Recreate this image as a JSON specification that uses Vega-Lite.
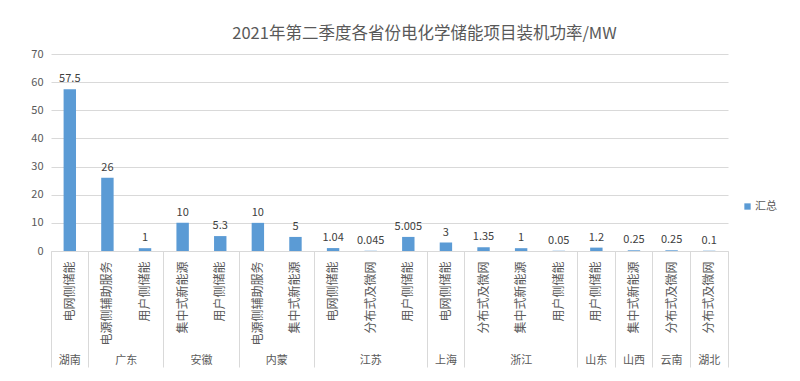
{
  "$schema": "https://vega.github.io/schema/vega-lite/v6.json",
  "width": 677,
  "height": 197,
  "autosize": "none",
  "padding": {"left": 51, "top": 54, "right": 72, "bottom": 130},
  "title": {
    "text": "2021年第二季度各省份电化学储能项目装机功率/MW",
    "fontSize": 16.5,
    "font": "Noto Sans CJK SC",
    "fontWeight": "normal",
    "color": "#595959",
    "anchor": "middle",
    "frame": "group",
    "baseline": "bottom",
    "dx": 35,
    "offset": -10
  },
  "data": {
    "values": [
      {"province": "湖南", "type": "电网侧储能", "key": "湖南|电网侧储能", "value": 57.5},
      {"province": "广东", "type": "电源侧辅助服务", "key": "广东|电源侧辅助服务", "value": 26},
      {"province": "广东", "type": "用户侧储能", "key": "广东|用户侧储能", "value": 1},
      {"province": "安徽", "type": "集中式新能源", "key": "安徽|集中式新能源", "value": 10},
      {"province": "安徽", "type": "用户侧储能", "key": "安徽|用户侧储能", "value": 5.3},
      {"province": "内蒙", "type": "电源侧辅助服务", "key": "内蒙|电源侧辅助服务", "value": 10},
      {"province": "内蒙", "type": "集中式新能源", "key": "内蒙|集中式新能源", "value": 5},
      {"province": "江苏", "type": "电网侧储能", "key": "江苏|电网侧储能", "value": 1.04},
      {"province": "江苏", "type": "分布式及微网", "key": "江苏|分布式及微网", "value": 0.045},
      {"province": "江苏", "type": "用户侧储能", "key": "江苏|用户侧储能", "value": 5.005},
      {"province": "上海", "type": "电网侧储能", "key": "上海|电网侧储能", "value": 3},
      {"province": "浙江", "type": "分布式及微网", "key": "浙江|分布式及微网", "value": 1.35},
      {"province": "浙江", "type": "集中式新能源", "key": "浙江|集中式新能源", "value": 1},
      {"province": "浙江", "type": "用户侧储能", "key": "浙江|用户侧储能", "value": 0.05},
      {"province": "山东", "type": "用户侧储能", "key": "山东|用户侧储能", "value": 1.2},
      {"province": "山西", "type": "集中式新能源", "key": "山西|集中式新能源", "value": 0.25},
      {"province": "云南", "type": "分布式及微网", "key": "云南|分布式及微网", "value": 0.25},
      {"province": "湖北", "type": "分布式及微网", "key": "湖北|分布式及微网", "value": 0.1}
    ]
  },
  "encoding": {
    "y": {
      "field": "value",
      "type": "quantitative",
      "stack": null,
      "scale": {"domain": [0, 70], "nice": false},
      "axis": {
        "values": [0, 10, 20, 30, 40, 50, 60, 70],
        "title": null,
        "grid": true,
        "gridColor": "#d9d9d9",
        "domain": false,
        "ticks": false,
        "labelPadding": 8,
        "labelColor": "#595959",
        "labelFontSize": 11,
        "labelFont": "Noto Sans CJK SC"
      }
    }
  },
  "layer": [
    {
      "mark": {"type": "bar", "width": {"band": 0.33}},
      "encoding": {
        "x": {
          "field": "key",
          "type": "nominal",
          "sort": null,
          "scale": {"type": "band", "paddingInner": 0, "paddingOuter": 0},
          "axis": {
            "orient": "bottom",
            "title": null,
            "labelExpr": "split(datum.value, '|')[1]",
            "labelAngle": -90,
            "labelPadding": 10,
            "ticks": false,
            "domain": true,
            "domainColor": "#d9d9d9",
            "labelColor": "#595959",
            "labelFontSize": 12,
            "labelFont": "Noto Sans CJK SC"
          }
        },
        "color": {
          "datum": "汇总",
          "scale": {"range": ["#5B9BD5"]},
          "legend": {
            "orient": "none",
            "legendX": 691,
            "legendY": 147,
            "title": null,
            "symbolType": "square",
            "symbolSize": 40,
            "labelFontSize": 11,
            "labelColor": "#595959",
            "labelFont": "Noto Sans CJK SC",
            "labelOffset": 2
          }
        }
      }
    },
    {
      "mark": {"type": "text", "baseline": "bottom", "dy": -5, "fontSize": 11, "color": "#404040", "font": "Noto Sans CJK SC"},
      "encoding": {
        "x": {
          "field": "key",
          "type": "nominal",
          "sort": null,
          "axis": {
            "orient": "bottom",
            "title": null,
            "bandPosition": 0,
            "domain": false,
            "ticks": true,
            "tickSize": 116,
            "tickColor": "#d9d9d9",
            "tickOpacity": {
              "condition": {
                "test": "indexof(['湖南|电网侧储能','广东|电源侧辅助服务','安徽|集中式新能源','内蒙|电源侧辅助服务','江苏|电网侧储能','上海|电网侧储能','浙江|分布式及微网','山东|用户侧储能','山西|集中式新能源','云南|分布式及微网','湖北|分布式及微网'], datum.value) >= 0",
                "value": 1
              },
              "value": 0
            },
            "labelExpr": "indexof(['广东|用户侧储能','安徽|用户侧储能','内蒙|集中式新能源'], datum.value) >= 0 ? split(datum.value, '|')[0] : ''",
            "labelAngle": 0,
            "labelPadding": -13,
            "labelOffset": -18.8,
            "labelBaseline": "top",
            "labelColor": "#595959",
            "labelFontSize": 11,
            "labelFont": "Noto Sans CJK SC"
          }
        },
        "text": {"field": "value", "type": "nominal"}
      }
    },
    {
      "mark": {"type": "bar", "opacity": 0},
      "encoding": {
        "x": {
          "field": "key",
          "type": "nominal",
          "sort": null,
          "axis": {
            "orient": "bottom",
            "title": null,
            "bandPosition": 0.5,
            "domain": false,
            "ticks": false,
            "labelExpr": "indexof(['湖南|电网侧储能','江苏|分布式及微网','上海|电网侧储能','浙江|集中式新能源','山东|用户侧储能','山西|集中式新能源','云南|分布式及微网','湖北|分布式及微网'], datum.value) >= 0 ? split(datum.value, '|')[0] : ''",
            "labelAngle": 0,
            "labelPadding": 103,
            "labelBaseline": "top",
            "labelColor": "#595959",
            "labelFontSize": 11,
            "labelFont": "Noto Sans CJK SC"
          }
        }
      }
    },
    {
      "mark": {"type": "bar", "opacity": 0},
      "encoding": {
        "x": {
          "field": "key",
          "type": "nominal",
          "sort": null,
          "axis": {
            "orient": "bottom",
            "title": null,
            "bandPosition": 1,
            "domain": false,
            "ticks": true,
            "tickSize": 116,
            "tickColor": "#d9d9d9",
            "tickOpacity": {
              "condition": {"test": "datum.value == '湖北|分布式及微网'", "value": 1},
              "value": 0
            },
            "labels": false
          }
        }
      }
    }
  ],
  "resolve": {"axis": {"x": "independent"}},
  "config": {"view": {"stroke": null}, "font": "Noto Sans CJK SC"}
}
